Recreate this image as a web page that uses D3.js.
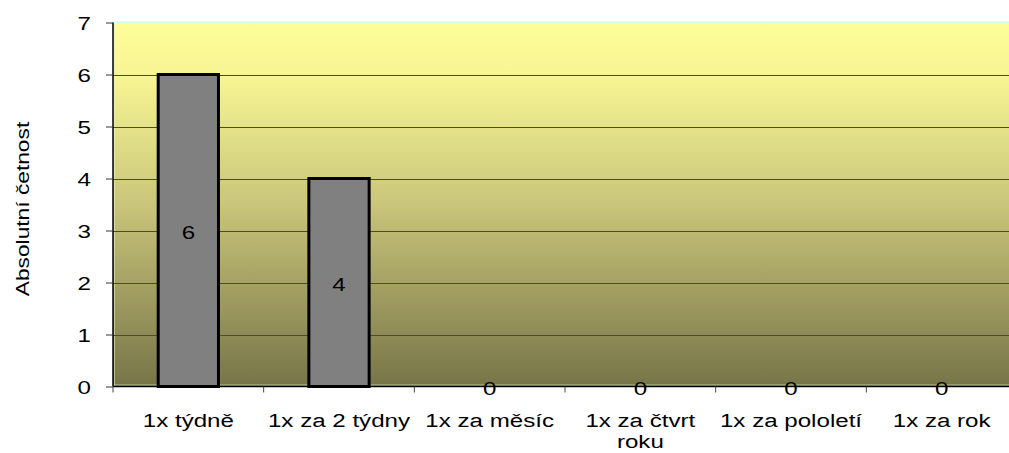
<!DOCTYPE html>
<html>
<head>
<meta charset="utf-8" />
<script src="https://d3js.org/d3.v7.min.js"></script>
<style>
    body { margin: 0; background: #fff; }
    text { font-family: "Liberation Sans", Arial, sans-serif; fill: #000; }
    .grid line { stroke: #4a4a3a; stroke-width: 1px; shape-rendering: crispEdges; }
</style>
</head>
<body>
<svg id="chart" width="1009" height="453"></svg>
<script>
// data
var categories = ["1x týdně", "1x za 2 týdny", "1x za měsíc", "1x za čtvrt roku", "1x za pololetí", "1x za rok"];
var values = [6, 4, 0, 0, 0, 0];
var yTicks = [0, 1, 2, 3, 4, 5, 6, 7];

var margin = { top: 22.5, left: 113, bottom: 66.5 };
var plotW = 904, plotH = 453 - margin.top - margin.bottom;
var fs = 19, sx = 1.27;   // font size and horizontal stretch of the text

var svg = d3.select("#chart");

var defs = svg.append("defs");
var grad = defs.append("linearGradient")
    .attr("id", "bg").attr("x1", 0).attr("y1", 0).attr("x2", 0).attr("y2", 1);
grad.append("stop").attr("offset", "0%").attr("stop-color", "#fdfd99");
grad.append("stop").attr("offset", "15%").attr("stop-color", "#f7f593");
grad.append("stop").attr("offset", "50%").attr("stop-color", "#c9c57a");
grad.append("stop").attr("offset", "100%").attr("stop-color", "#777448");

var g = svg.append("g").attr("transform", "translate(" + margin.left + "," + margin.top + ")");

var x = d3.scaleBand().domain(categories).range([0, plotW]).paddingInner(0).paddingOuter(0);
var y = d3.scaleLinear().domain([0, 7]).range([plotH, 0]);

// places a stretched text at (px, py)
function label(parent, px, py, txt, anchor) {
    return parent.append("g")
        .attr("transform", "translate(" + px + "," + py + ") scale(" + sx + ",1)")
        .append("text")
        .attr("text-anchor", anchor || "middle")
        .attr("font-size", fs + "px")
        .text(txt);
}

// background
g.append("rect").attr("x", 0).attr("y", 0).attr("width", plotW).attr("height", plotH)
    .attr("fill", "url(#bg)");
g.append("line").attr("x1", 0).attr("x2", plotW).attr("y1", -0.5).attr("y2", -0.5)
    .attr("stroke", "#c8ffff").attr("stroke-width", 1.5);
g.append("line").attr("x1", 0).attr("x2", plotW).attr("y1", plotH - 1.5).attr("y2", plotH - 1.5)
    .attr("stroke", "#b8c89a").attr("stroke-width", 1);
g.append("line").attr("x1", 1.5).attr("x2", 1.5).attr("y1", 0).attr("y2", plotH)
    .attr("stroke", "#e8f0c0").attr("stroke-width", 1).attr("opacity", 0.6);

// gridlines
g.append("g").attr("class", "grid")
    .selectAll("line").data(yTicks.filter(function(d) { return d > 0 && d < 7; }))
    .enter().append("line")
    .attr("x1", 0).attr("x2", plotW)
    .attr("y1", function(d) { return Math.round(y(d)) + 0.5; })
    .attr("y2", function(d) { return Math.round(y(d)) + 0.5; });

// bars
var bw = x.bandwidth() * 0.4;
g.selectAll(".bar").data(values).enter().append("rect")
    .attr("class", "bar")
    .attr("x", function(d, i) { return x(categories[i]) + (x.bandwidth() - bw) / 2; })
    .attr("y", function(d) { return y(d); })
    .attr("width", bw)
    .attr("height", function(d) { return y(0) - y(d); })
    .attr("fill", "#808080")
    .attr("stroke", "#000")
    .attr("stroke-width", 3)
    .style("display", function(d) { return d > 0 ? null : "none"; });

// y axis
var yAxis = d3.axisLeft(y).tickValues(yTicks).tickSize(7).tickFormat("");
var yg = g.append("g").call(yAxis);
yg.select(".domain").attr("stroke", "#000").attr("stroke-width", 1.5).attr("d", "M0," + plotH + "V0");
yg.selectAll(".tick line").attr("stroke", "#333");
yTicks.forEach(function(t) {
    label(g, -22, y(t) + 7, d3.format("d")(t), "end");
});

// x axis
var xAxis = d3.axisBottom(x).tickSize(0).tickFormat("");
var xg = g.append("g").attr("transform", "translate(0," + plotH + ")").call(xAxis);
xg.select(".domain").attr("stroke", "#000").attr("stroke-width", 1.5).attr("d", "M0,0H" + plotW);

// category separator ticks
xg.selectAll(".sep").data(d3.range(categories.length + 1)).enter().append("line")
    .attr("x1", function(i) { return i * x.step(); })
    .attr("x2", function(i) { return i * x.step(); })
    .attr("y1", 0).attr("y2", 6)
    .attr("stroke", "#444");

// category labels (wrapped to the category width)
var maxW = 148;
categories.forEach(function(d) {
    var cx = x(d) + x.bandwidth() / 2;
    var words = d.split(" "), line = [], lines = [];
    var probe = label(g, 0, -100, "");
    words.forEach(function(w) {
        line.push(w);
        probe.text(line.join(" "));
        if (probe.node().getComputedTextLength() * sx > maxW && line.length > 1) {
            line.pop();
            lines.push(line.join(" "));
            line = [w];
        }
    });
    lines.push(line.join(" "));
    d3.select(probe.node().parentNode).remove();
    lines.forEach(function(l, k) {
        label(g, cx, plotH + 40 + k * 21, l);
    });
});

// value labels
values.forEach(function(v, i) {
    label(g, x(categories[i]) + x.bandwidth() / 2, (y(v) + y(0)) / 2 + 8, v);
});

// y axis title
svg.append("g")
    .attr("transform", "translate(29," + 209 + ") rotate(-90) scale(1.3,1)")
    .append("text")
    .attr("text-anchor", "middle")
    .attr("font-size", "17.5px")
    .text("Absolutní četnost");
</script>
</body>
</html>
